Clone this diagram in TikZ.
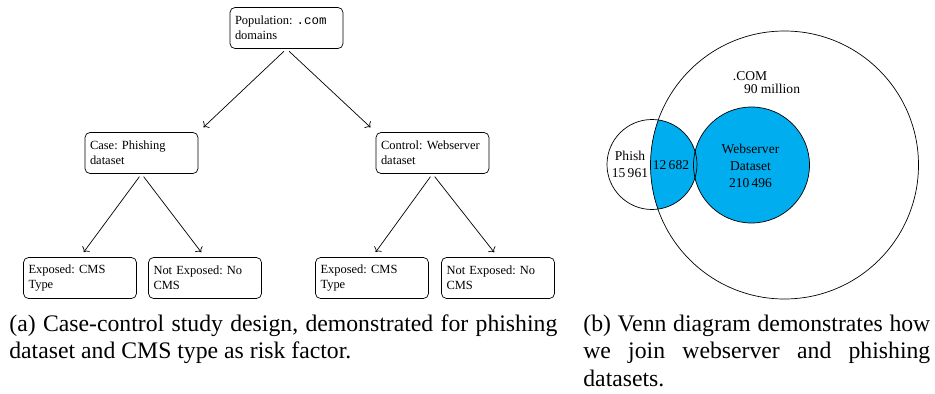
\documentclass[tikz,border=0pt]{standalone}
\usepackage{fontspec}
\setmainfont{Liberation Serif}
\setmonofont{Liberation Mono}
\usetikzlibrary{positioning,arrows.meta}
\definecolor{webblue}{RGB}{0,174,239}
\frenchspacing

\begin{document}
\begin{tikzpicture}[node distance=2.5cm,on grid]

  \tikzset{
    box/.style={draw,rounded corners=1mm,align=left,text width=2.06cm,
      minimum height=0.82cm,inner xsep=0.1cm,inner ysep=0pt,
      font=\fontsize{7.1}{8.5}\selectfont},
    arr/.style={->,shorten <=2pt,shorten >=4pt},
    venn/.style={align=center,inner sep=0pt,font=\fontsize{7.7}{9.6}\selectfont},
    capt/.style={anchor=base west,align=justify,inner sep=0pt,
      font=\fontsize{13.5}{15.6}\selectfont},
  }

  \useasboundingbox (0,0) rectangle (18.7,-7.88);

  % case-control tree
  \node[box] (pop) at (5.73,-0.56) {Population: \texttt{.com}\\domains};
  \node[box] (case) [below left=2.5cm and 2.90cm of pop] {Case: Phishing\\dataset};
  \node[box] (ctrl) [below right=2.5cm and 2.92cm of pop] {Control: Webserver\\dataset};
  \path[arr] (pop.south) edge (case.north east);
  \path[arr] (pop.south) edge (ctrl.north west);

  \node[box] (caseexp) [below left=2.5cm and 1.23cm of case] {Exposed: CMS\\Type};
  \node[box] (casenot) [below right=2.5cm and 1.27cm of case] {Not Exposed: No\\CMS};
  \path[arr,shorten >=3.5pt] (case.south) edge (caseexp.north);
  \path[arr,shorten >=3.5pt] (case.south) edge (casenot.north);

  \node[box] (ctrlexp) [below left=2.5cm and 1.21cm of ctrl] {Exposed: CMS\\Type};
  \node[box] (ctrlnot) [below right=2.5cm and 1.31cm of ctrl] {Not Exposed: No\\CMS};
  \path[arr,shorten >=3.5pt] (ctrl.south) edge (ctrlexp.north);
  \path[arr,shorten >=3.5pt] (ctrl.south) edge (ctrlnot.north);

  % venn diagram
  \coordinate (com) at (15.69,-3.30);
  \coordinate (phish) at (13.04,-3.29);
  \coordinate (web) at (15.03,-3.30);

  \fill[webblue] (web) circle (1.16);
  \begin{scope}
    \clip (phish) circle (0.9);
    \fill[webblue] (com) circle (2.68);
  \end{scope}
  \draw (com) circle (2.68);
  \draw (phish) circle (0.9);
  \draw (web) circle (1.16);

  \node[venn] (comlbl) at (15.00,-1.52) {.COM};
  \node[venn] (comnum) at (15.44,-1.78) {90 million};
  \node[venn] (phishlbl) at (12.60,-3.29) {Phish\\15\,961};
  \node[venn] (both) at (13.42,-3.30) {12\,682};
  \node[venn] (weblbl) at (15.01,-3.32) {Webserver\\Dataset\\210\,496};

  % captions
  \node[capt,text width=10.96cm] (capa) at (0.18,-6.63)
    {(a) Case-control study design, demonstrated for phishing dataset and CMS type as risk factor.};
  \node[capt,text width=6.94cm] (capb) at (11.66,-6.63)
    {(b) Venn diagram demonstrates how we join webserver and phishing datasets.};

\end{tikzpicture}
\end{document}
